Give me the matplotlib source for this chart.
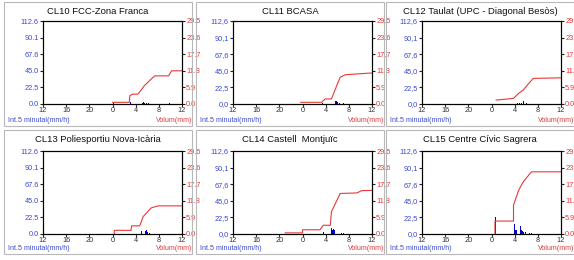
import matplotlib
matplotlib.use("Agg")
import matplotlib.pyplot as plt
from matplotlib.patches import Rectangle

plt.rcParams['font.family'] = ['Liberation Sans', 'DejaVu Sans']

W, H = 574, 260

# station titles
titles = ["CL10 FCC-Zona Franca", "CL11 BCASA", "CL12 Taulat (UPC - Diagonal Besòs)",
          "CL13 Poliesportiu Nova-Icària", "CL14 Castell  Montjuïc", "CL15 Centre Cívic Sagrera"]

# decimal separator used on the left axis of each panel
left_sep = [".", ",", ",", ".", ",", ","]

# cumulative volume (mm), hours relative to midnight
vol_t = [
    [0, 2.9, 3.0, 3.5, 4.4, 5.5, 6.7, 7.3, 9.7, 10.2, 12],
    [-0.3, 3.3, 3.9, 5.0, 6.0, 6.5, 7.4, 11.7, 12],
    [0.8, 3.8, 4.7, 5.5, 6.3, 7.2, 12],
    [0.3, 0.3, 3.2, 3.3, 4.7, 5.3, 6.7, 7.9, 12],
    [-3.0, 0.0, 0.0, 3.0, 3.6, 4.8, 5.0, 6.5, 9.4, 10.2, 12],
    [0.6, 0.6, 3.8, 3.8, 4.7, 5.5, 6.9, 12],
]
vol_v = [
    [0.6, 0.6, 3.0, 3.5, 3.5, 6.5, 8.9, 10.0, 10.0, 11.8, 11.8],
    [0.6, 0.6, 1.8, 1.8, 7.0, 9.5, 10.4, 11.0, 11.0],
    [1.4, 2.0, 3.8, 5.0, 7.0, 9.1, 9.3],
    [0.0, 1.3, 1.3, 2.9, 2.9, 6.2, 9.3, 10.0, 10.0],
    [0.4, 0.4, 1.5, 1.5, 3.1, 3.1, 7.9, 14.4, 14.6, 15.4, 15.5],
    [0.0, 4.6, 4.6, 10.3, 15.6, 18.6, 22.1, 22.1],
]

# 5-minute intensity (mm/h)
int_t = [
    [0.1, 3.1, 4.7, 4.9, 5.1, 5.3, 5.5, 5.8, 6.2, 9.8],
    [3.4, 4.9, 5.2, 5.4, 5.6, 5.8, 6.0, 6.3, 6.6, 7.0, 9.9],
    [4.4, 4.8, 5.1, 5.4, 5.5, 5.7, 6.0, 6.4],
    [4.7, 5.0, 5.2, 5.4, 5.6, 5.8, 6.0, 6.3],
    [3.0, 3.3, 3.6, 4.9, 5.0, 5.1, 5.3, 5.5, 5.7, 5.9, 6.1, 6.4, 6.7, 7.0, 9.9],
    [0.6, 3.8, 3.9, 4.0, 4.1, 4.3, 4.5, 4.7, 4.9, 5.0, 5.1, 5.3, 5.5, 5.8, 6.1, 6.5, 6.9],
]
int_v = [
    [1.5, 2.5, 2.0, 2.5, 2.0, 2.5, 2.0, 1.5, 1.5, 2.0],
    [1.0, 2.0, 3.0, 3.5, 4.0, 3.5, 3.0, 2.0, 1.5, 1.0, 1.5],
    [1.0, 1.5, 2.0, 3.0, 4.0, 3.0, 1.5, 1.0],
    [2.0, 4.0, 5.0, 3.0, 4.5, 5.0, 3.0, 1.5],
    [9.0, 4.0, 3.0, 5.0, 8.0, 6.0, 7.0, 6.0, 5.0, 4.0, 3.0, 2.0, 1.5, 1.0, 2.0],
    [23, 50, 13, 8, 6, 5, 4, 3, 10, 11, 6, 4, 3, 2.5, 2, 1.5, 1],
]

x_ticks = [-12, -8, -4, 0, 4, 8, 12]
left_ticks = [0.0, 22.5, 45.0, 67.6, 90.1, 112.6]
right_ticks = [0.0, 5.9, 11.8, 17.7, 23.6, 29.5]

blue = '#0000c8'
lblue = '#3a4ad0'
red = '#e8383a'

fig = plt.figure(figsize=(W / 100, H / 100), dpi=100)


def fx(px):
    return px / W


def fy(py):
    return 1 - py / H


col_left = [43, 233, 422]
col_box = [4, 196, 386]
row_top = [21, 151]
row_box = [2, 130]
pw, ph = 139, 83

for i in range(6):
    r, c = divmod(i, 3)
    bx, by = col_box[c], row_box[r]
    # panel frame
    fig.patches.append(Rectangle((fx(bx), fy(by + 124)), 188 / W, 124 / H,
                                 transform=fig.transFigure, fill=False,
                                 edgecolor='#b8b8b8', lw=0.8))
    l, t = col_left[c], row_top[r]
    ax = fig.add_axes([fx(l), fy(t + ph), pw / W, ph / H])
    ax.bar(int_t[i], int_v[i], width=0.1, color=blue, align='edge')
    ax.set_xlim(-12, 12)
    ax.set_ylim(0, 112.6)
    ax.set_xticks(x_ticks)
    ax.set_xticklabels([str(v % 24) for v in x_ticks])
    ax.set_yticks(left_ticks)
    ax.set_yticklabels([f"{v:.1f}".replace(".", left_sep[i]) for v in left_ticks])
    ax.tick_params(axis='x', labelsize=5.3, length=2, pad=0.5, colors='#333333')
    ax.tick_params(axis='y', labelsize=5.3, length=2, pad=1, colors='#222222',
                   labelcolor=lblue)
    for s in ax.spines.values():
        s.set_linewidth(0.8)

    ax2 = ax.twinx()
    ax2.plot(vol_t[i], vol_v[i], color=red, lw=0.8)
    ax2.set_ylim(0, 29.5)
    ax2.set_yticks(right_ticks)
    ax2.set_yticklabels([f"{v:.1f}" for v in right_ticks])
    ax2.tick_params(axis='y', labelsize=5.3, length=2, pad=1, colors='#222222',
                    labelcolor=red)
    ax2.set_xlim(-12, 12)

    fig.text(fx(bx + 94), fy(by + 9), titles[i], ha='center', va='center',
             fontsize=6.8, color='#111111')
    fig.text(fx(bx + 4), fy(by + 118.5), "Int.5 minutal(mm/h)", ha='left',
             va='center', fontsize=5.1, color=lblue)
    fig.text(fx(bx + 188), fy(by + 118.5), "Volum(mm)", ha='right',
             va='center', fontsize=5.1, color=red)

fig.savefig('out.png', dpi=100)
